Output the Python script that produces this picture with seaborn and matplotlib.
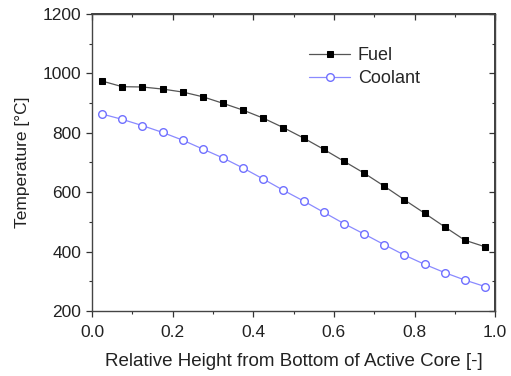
import matplotlib
matplotlib.use("Agg")
import matplotlib.pyplot as plt
import seaborn as sns
import numpy as np
import pandas as pd
from matplotlib.ticker import MultipleLocator

height = [0.025, 0.075, 0.125, 0.175, 0.225, 0.275, 0.325, 0.375, 0.425, 0.475,
          0.525, 0.575, 0.625, 0.675, 0.725, 0.775, 0.825, 0.875, 0.925, 0.975]
fuel = [974, 955, 954, 947, 937, 921, 899, 876, 849, 817,
        782, 744, 704, 664, 620, 574, 529, 483, 438, 416]
coolant = [863, 845, 824, 801, 775, 745, 715, 681, 644, 606,
           570, 532, 494, 459, 423, 388, 357, 329, 304, 282]
x_ticklabels = ["0.0", "0.2", "0.4", "0.6", "0.8", "1.0"]

sns.set_theme(style="ticks")
plt.rcParams['font.family'] = ['Liberation Sans', 'DejaVu Sans']

fig = plt.figure(figsize=(5.11, 3.76), dpi=100)
ax = fig.add_axes([0.18, 0.173, 0.789, 0.79])

df_f = pd.DataFrame({"h": height, "T": fuel})
df_c = pd.DataFrame({"h": height, "T": coolant})

sns.lineplot(data=df_f, x="h", y="T", ax=ax, color="#555555", lw=0.9,
             marker="s", markersize=5, markerfacecolor="black",
             markeredgecolor="black", label="Fuel")
sns.lineplot(data=df_c, x="h", y="T", ax=ax, color="#8a8aff", lw=0.9,
             marker="o", markersize=5.5, markerfacecolor="white",
             markeredgecolor="#7070ff", markeredgewidth=1.0, label="Coolant")

ax.set_xlim(0, 1.0)
ax.set_ylim(200, 1200)
ax.set_xticks([0, 0.2, 0.4, 0.6, 0.8, 1.0])
ax.set_xticklabels(x_ticklabels)
ax.xaxis.set_minor_locator(MultipleLocator(0.1))
ax.yaxis.set_major_locator(MultipleLocator(200))
ax.yaxis.set_minor_locator(MultipleLocator(100))

ax.tick_params(which="major", direction="out", length=4.3, width=0.9,
               labelsize=12.5, colors="#333333", labelcolor="#222222")
ax.tick_params(which="minor", direction="out", length=2.5, width=0.8, colors="#333333")
ax.tick_params(axis="x", which="major", pad=6)
ax.tick_params(axis="y", which="major", pad=3.5)
for s in ax.spines.values():
    s.set_linewidth(1.0)
    s.set_color("#444444")

# mirrored inward ticks on top and right
axt = ax.secondary_xaxis("top")
axt.xaxis.set_major_locator(MultipleLocator(0.2))
axt.xaxis.set_minor_locator(MultipleLocator(0.1))
axt.tick_params(which="major", direction="in", length=4, width=0.9, labeltop=False, colors="#333333")
axt.tick_params(which="minor", direction="in", length=2.5, width=0.8, colors="#333333")
axt.set_xticklabels([])
axr = ax.secondary_yaxis("right")
axr.yaxis.set_major_locator(MultipleLocator(200))
axr.yaxis.set_minor_locator(MultipleLocator(100))
axr.tick_params(which="major", direction="in", length=4, width=0.9, colors="#333333")
axr.tick_params(which="minor", direction="in", length=2.5, width=0.8, colors="#333333")
axr.set_yticklabels([])

ax.set_xlabel("Relative Height from Bottom of Active Core [-]", fontsize=13.5,
              color="#222222", labelpad=9)
ax.set_ylabel("Temperature [°C]", fontsize=12.5, color="#222222", labelpad=9)

leg = ax.legend(loc="upper left", bbox_to_anchor=(0.538, 0.888), frameon=False,
                fontsize=13, handlelength=2.3, handletextpad=0.4, labelspacing=0.35,
                borderaxespad=0, borderpad=0)

fig.savefig("out.png", dpi=100)
